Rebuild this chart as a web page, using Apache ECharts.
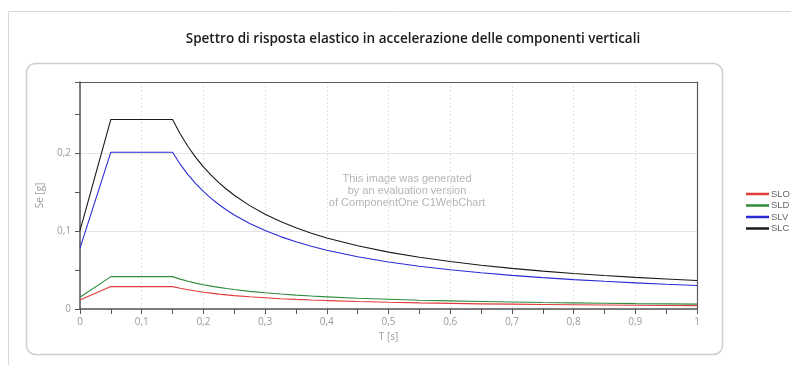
<!DOCTYPE html>
<html>
<head>
<meta charset="utf-8">
<script src="https://cdn.jsdelivr.net/npm/echarts@6/dist/echarts.min.js"></script>
<style>
html,body{margin:0;padding:0;background:#fff;}
#c{width:791px;height:365px;}
</style>
</head>
<body>
<div id="c"></div>
<script>
// Period T [s]
var T = [0, 0.05, 0.15, 0.1625, 0.175, 0.1875, 0.2, 0.2125, 0.225, 0.2375, 0.25, 0.275, 0.3, 0.325, 0.35, 0.375, 0.4, 0.45, 0.5, 0.55, 0.6, 0.65, 0.7, 0.75, 0.8, 0.85, 0.9, 0.95, 1.0];
// Se [g] for each limit state
var SLO = [0.0115, 0.0287, 0.0287, 0.0265, 0.0246, 0.023, 0.0215, 0.0203, 0.0191, 0.0181, 0.0172, 0.0157, 0.0144, 0.0132, 0.0123, 0.0115, 0.0108, 0.0096, 0.0086, 0.0078, 0.0072, 0.0066, 0.0062, 0.0057, 0.0054, 0.0051, 0.0048, 0.0045, 0.0043];
var SLD = [0.015, 0.0415, 0.0415, 0.0383, 0.0356, 0.0332, 0.0311, 0.0293, 0.0277, 0.0262, 0.0249, 0.0226, 0.0208, 0.0192, 0.0178, 0.0166, 0.0156, 0.0138, 0.0125, 0.0113, 0.0104, 0.0096, 0.0089, 0.0083, 0.0078, 0.0073, 0.0069, 0.0066, 0.0062];
var SLV = [0.078, 0.201, 0.201, 0.1855, 0.1723, 0.1608, 0.1508, 0.1419, 0.134, 0.1269, 0.1206, 0.1096, 0.1005, 0.0928, 0.0861, 0.0804, 0.0754, 0.067, 0.0603, 0.0548, 0.0503, 0.0464, 0.0431, 0.0402, 0.0377, 0.0355, 0.0335, 0.0317, 0.0302];
var SLC = [0.1005, 0.243, 0.243, 0.2243, 0.2083, 0.1944, 0.1823, 0.1715, 0.162, 0.1535, 0.1458, 0.1325, 0.1215, 0.1122, 0.1041, 0.0972, 0.0911, 0.081, 0.0729, 0.0663, 0.0608, 0.0561, 0.0521, 0.0486, 0.0456, 0.0429, 0.0405, 0.0384, 0.0365];
var seriesNames = ['SLO', 'SLD', 'SLV', 'SLC'];
var seriesColors = ['#e03a3a', '#2e8b3c', '#2b2bd6', '#1a1a1a'];
var titleText = 'Spettro di risposta elastico in accelerazione delle componenti verticali';
var watermark = ['This image was generated', 'by an evaluation version', 'of ComponentOne C1WebChart'];

function pairs(ys) { return T.map(function (t, i) { return [t, ys[i]]; }); }
function fmt(v) { return String(Math.round(v * 10) / 10).replace('.', ','); }

var chart = echarts.init(document.getElementById('c'), null, { renderer: 'canvas' });
var dataSets = [SLO, SLD, SLV, SLC];
var labelStyle = { fontFamily: 'Open Sans', fontSize: 10, color: '#9a9a9a' };
var frameAxisLine = { show: true, onZero: false, lineStyle: { color: '#5a5a5a', width: 1.2 } };

chart.setOption({
  backgroundColor: '#ffffff',
  animation: false,
  graphic: [
    { type: 'polyline', silent: true, shape: { points: [[8.5, 365], [8.5, 11.5], [791, 11.5]] }, style: { stroke: '#d9d9d9', lineWidth: 1, fill: null } },
    { type: 'rect', silent: true, shape: { x: 26.5, y: 63.5, width: 696, height: 291, r: 9 }, style: { stroke: '#cfcfcf', lineWidth: 1.5, fill: '#fff' }, z: -1 },
    { type: 'text', silent: true, x: 413, y: 39, style: { text: titleText, font: '600 13.5px "Open Sans"', fill: '#1a1a1a', textAlign: 'center', textVerticalAlign: 'middle' } },
    { type: 'text', silent: true, x: 407, y: 191, z: 0, style: { text: watermark.join('\n'), font: '11px "Liberation Sans"', lineHeight: 12, fill: '#b5b5b5', textAlign: 'center', textVerticalAlign: 'middle' } }
  ],
  legend: {
    orient: 'vertical',
    left: 741,
    top: 184,
    itemWidth: 23,
    itemHeight: 2.5,
    itemGap: 1.5,
    icon: 'rect',
    textStyle: { fontFamily: 'Liberation Sans', fontSize: 9.5, color: '#666', padding: [0, 0, 0, -3] },
    data: seriesNames
  },
  grid: { left: 80, top: 82, width: 617, height: 227 },
  xAxis: [{
    type: 'value', min: 0, max: 1, interval: 0.1,
    name: 'T [s]', nameLocation: 'middle', nameGap: 23,
    nameTextStyle: labelStyle,
    axisLine: { onZero: false, lineStyle: { color: '#555', width: 1.5 } },
    axisTick: { show: true, length: 5, lineStyle: { color: '#555' } },
    minorTick: { show: true, splitNumber: 2, length: 5, lineStyle: { color: '#555' } },
    axisLabel: Object.assign({ margin: 8, formatter: fmt }, labelStyle),
    splitLine: { show: true, lineStyle: { color: '#e2e2e2', type: [2, 2], width: 1 } }
  }, {
    type: 'value', min: 0, max: 1, position: 'top',
    axisLine: frameAxisLine, axisTick: { show: false }, axisLabel: { show: false }, splitLine: { show: false }
  }],
  yAxis: [{
    type: 'value', min: 0, max: 0.291, interval: 0.1,
    name: 'Se [g]', nameLocation: 'middle', nameGap: 35, nameRotate: 90,
    nameTextStyle: labelStyle,
    axisLine: { show: true, onZero: false, lineStyle: { color: '#555', width: 1.5 } },
    axisTick: { show: true, length: 5, lineStyle: { color: '#555' } },
    minorTick: { show: true, splitNumber: 2, length: 5, lineStyle: { color: '#555' } },
    axisLabel: Object.assign({ margin: 9, formatter: function (v) { return v > 0.25 ? '' : fmt(v); } }, labelStyle),
    splitLine: { show: true, lineStyle: { color: '#e4e4e4', width: 1 } }
  }, {
    type: 'value', min: 0, max: 0.291, position: 'right',
    axisLine: frameAxisLine, axisTick: { show: false }, axisLabel: { show: false }, splitLine: { show: false }
  }],
  series: seriesNames.map(function (n, i) {
    return {
      name: n, type: 'line', data: pairs(dataSets[i]), showSymbol: false, symbol: 'none',
      lineStyle: { color: seriesColors[i], width: 1.1 }, itemStyle: { color: seriesColors[i] },
      z: 2
    };
  })
});
</script>
</body>
</html>
